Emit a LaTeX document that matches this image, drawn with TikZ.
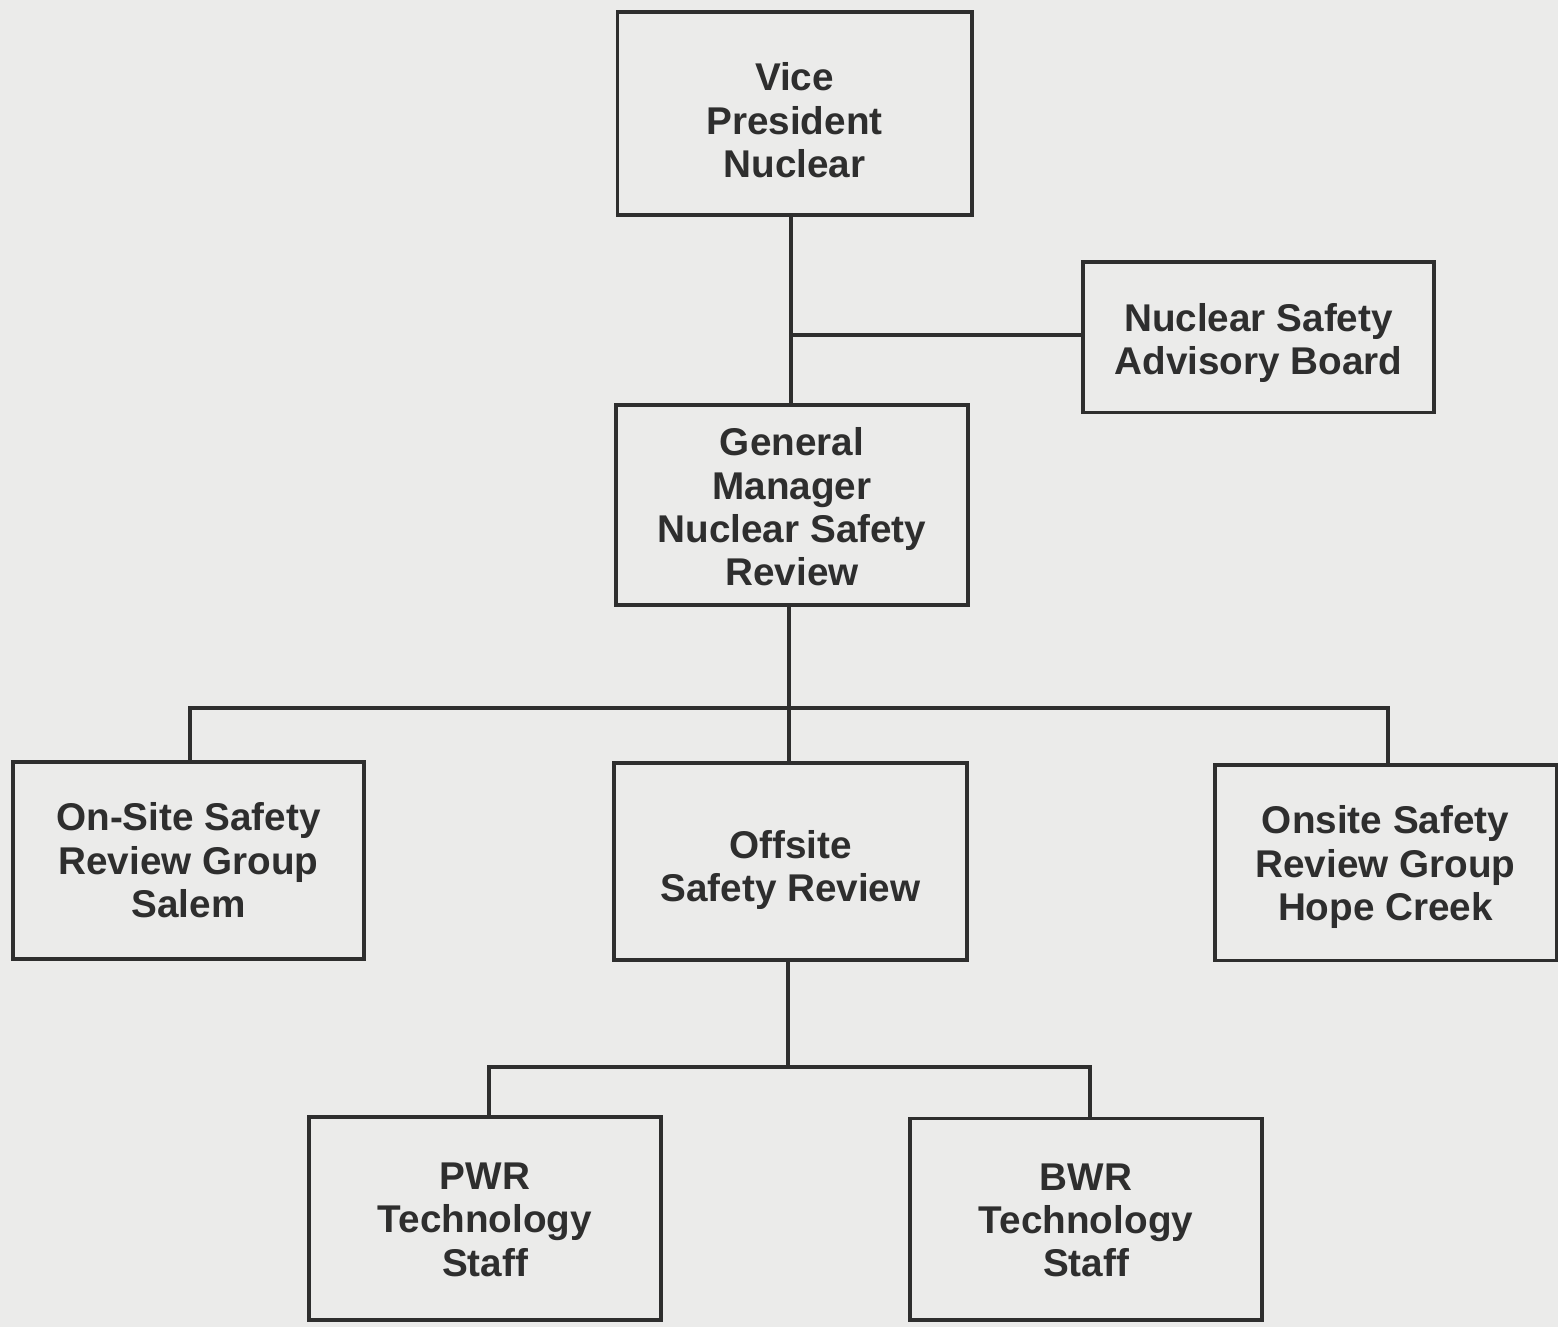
\documentclass[tikz,border=0pt]{standalone}
\usepackage{fontspec}
\setmainfont{Liberation Sans}
% centred block of lines, moved down by #1 without changing the box size
\newcommand{\boxtext}[2]{\raisebox{#1}[\height][\depth]{\begin{tabular}{@{}c@{}}#2\end{tabular}}}
\begin{document}
\definecolor{paper}{HTML}{EBEBEA}
\definecolor{ink}{HTML}{2E2E2E}
\begin{tikzpicture}[x=0.01cm,y=-0.01cm,
  box/.style={draw=ink, fill=paper, line width=0.9pt, inner sep=0pt,
    text=ink, font=\bfseries\fontsize{11}{12.3}\selectfont},
  link/.style={draw=ink, line width=0.9pt}]
  \fill[paper] (0,0) rectangle (1558,1327);
  \useasboundingbox (0,0) rectangle (1558,1327);

  % boxes
  \node[box, minimum width=100.9pt, minimum height=57.7pt] (vp) at (794.5,113.5)
    {\boxtext{-3.4pt}{Vice\\President\\Nuclear}};
  \node[box, minimum width=99.8pt, minimum height=42.7pt] (nsab) at (1258.5,337)
    {\boxtext{-2.0pt}{Nuclear Safety\\Advisory Board}};
  \node[box, minimum width=100.1pt, minimum height=56.9pt] (gm) at (792,505)
    {\boxtext{-2.0pt}{General\\Manager\\Nuclear Safety\\Review}};
  \node[box, minimum width=99.8pt, minimum height=56.0pt] (salem) at (188.5,860.5)
    {\boxtext{-1.4pt}{On-Site Safety\\Review Group\\Salem}};
  \node[box, minimum width=100.4pt, minimum height=56.0pt] (osr) at (790.5,861.5)
    {\boxtext{-2.9pt}{Offsite\\Safety Review}};
  \node[box, minimum width=97.0pt, minimum height=55.5pt] (hope) at (1385.5,862.5)
    {\boxtext{-1.7pt}{Onsite Safety\\Review Group\\Hope Creek}};
  \node[box, minimum width=100.1pt, minimum height=57.7pt] (pwr) at (485,1218.5)
    {\boxtext{-1.6pt}{PWR\\Technology\\Staff}};
  \node[box, minimum width=100.1pt, minimum height=57.4pt] (bwr) at (1086,1219)
    {\boxtext{-1.7pt}{BWR\\Technology\\Staff}};

  % branch points of the connectors
  \coordinate (top) at (791,335);
  \coordinate (bus1) at (789,708);
  \coordinate (bus1l) at (190,708);
  \coordinate (bus1r) at (1388,708);
  \coordinate (bus2) at (788,1067);
  \coordinate (bus2l) at (489,1067);
  \coordinate (bus2r) at (1090,1067);

  % connectors
  \draw[link] (top |- vp.south) -- (top |- gm.north);
  \draw[link] (top -| nsab.west) -- (top);
  \draw[link] (bus1 |- gm.south) -- (bus1 |- osr.north);
  \draw[link] (bus1l |- salem.north) -- (bus1l) -- (bus1r) -- (bus1r |- hope.north);
  \draw[link] (bus2 |- osr.south) -- (bus2);
  \draw[link] (bus2l |- pwr.north) -- (bus2l) -- (bus2r) -- (bus2r |- bwr.north);
\end{tikzpicture}
\end{document}
